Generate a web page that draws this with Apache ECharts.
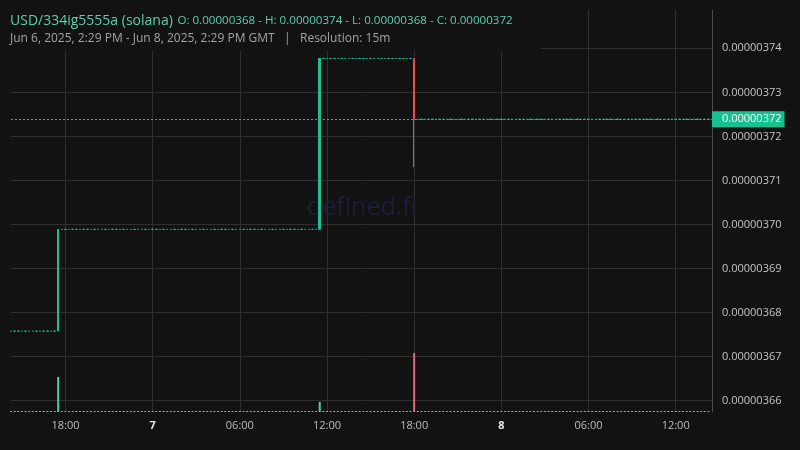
<!DOCTYPE html>
<html><head><meta charset="utf-8">
<script src="https://cdn.jsdelivr.net/npm/echarts@6/dist/echarts.min.js"></script>
<style>html,body{margin:0;padding:0;background:#121212;}#c{width:800px;height:450px;}</style>
</head><body><div id="c"></div>
<script>
// 15-minute slots from Jun 6 2025 14:15 GMT to Jun 8 2025 14:30 GMT
const startUTC = Date.UTC(2025, 5, 6, 14, 15);
const slotCount = 194;
const categories = [];
for (let i = 0; i < slotCount; i++) {
  const d = new Date(startUTC + i * 15 * 60000);
  const p = n => String(n).padStart(2, '0');
  categories.push(d.getUTCFullYear() + '-' + p(d.getUTCMonth() + 1) + '-' + p(d.getUTCDate()) + ' ' + p(d.getUTCHours()) + ':' + p(d.getUTCMinutes()));
}

// close price of each 15m candle
const closes = [
  3.6758e-6,3.6758e-6,3.6758e-6,3.6758e-6,3.6758e-6,3.6758e-6,3.6758e-6,3.6758e-6,3.6758e-6,3.6758e-6,3.6758e-6,3.6758e-6,
  3.6758e-6,3.6989e-6,3.6989e-6,3.6989e-6,3.6989e-6,3.6989e-6,3.6989e-6,3.6989e-6,3.6989e-6,3.6989e-6,3.6989e-6,3.6989e-6,
  3.6989e-6,3.6989e-6,3.6989e-6,3.6989e-6,3.6989e-6,3.6989e-6,3.6989e-6,3.6989e-6,3.6989e-6,3.6989e-6,3.6989e-6,3.6989e-6,
  3.6989e-6,3.6989e-6,3.6989e-6,3.6989e-6,3.6989e-6,3.6989e-6,3.6989e-6,3.6989e-6,3.6989e-6,3.6989e-6,3.6989e-6,3.6989e-6,
  3.6989e-6,3.6989e-6,3.6989e-6,3.6989e-6,3.6989e-6,3.6989e-6,3.6989e-6,3.6989e-6,3.6989e-6,3.6989e-6,3.6989e-6,3.6989e-6,
  3.6989e-6,3.6989e-6,3.6989e-6,3.6989e-6,3.6989e-6,3.6989e-6,3.6989e-6,3.6989e-6,3.6989e-6,3.6989e-6,3.6989e-6,3.6989e-6,
  3.6989e-6,3.6989e-6,3.6989e-6,3.6989e-6,3.6989e-6,3.6989e-6,3.6989e-6,3.6989e-6,3.6989e-6,3.6989e-6,3.6989e-6,3.6989e-6,
  3.6989e-6,3.7377e-6,3.7377e-6,3.7377e-6,3.7377e-6,3.7377e-6,3.7377e-6,3.7377e-6,3.7377e-6,3.7377e-6,3.7377e-6,3.7377e-6,
  3.7377e-6,3.7377e-6,3.7377e-6,3.7377e-6,3.7377e-6,3.7377e-6,3.7377e-6,3.7377e-6,3.7377e-6,3.7377e-6,3.7377e-6,3.7377e-6,
  3.7377e-6,3.7377e-6,3.7377e-6,3.7239e-6,3.7239e-6,3.7239e-6,3.7239e-6,3.7239e-6,3.7239e-6,3.7239e-6,3.7239e-6,3.7239e-6,
  3.7239e-6,3.7239e-6,3.7239e-6,3.7239e-6,3.7239e-6,3.7239e-6,3.7239e-6,3.7239e-6,3.7239e-6,3.7239e-6,3.7239e-6,3.7239e-6,
  3.7239e-6,3.7239e-6,3.7239e-6,3.7239e-6,3.7239e-6,3.7239e-6,3.7239e-6,3.7239e-6,3.7239e-6,3.7239e-6,3.7239e-6,3.7239e-6,
  3.7239e-6,3.7239e-6,3.7239e-6,3.7239e-6,3.7239e-6,3.7239e-6,3.7239e-6,3.7239e-6,3.7239e-6,3.7239e-6,3.7239e-6,3.7239e-6,
  3.7239e-6,3.7239e-6,3.7239e-6,3.7239e-6,3.7239e-6,3.7239e-6,3.7239e-6,3.7239e-6,3.7239e-6,3.7239e-6,3.7239e-6,3.7239e-6,
  3.7239e-6,3.7239e-6,3.7239e-6,3.7239e-6,3.7239e-6,3.7239e-6,3.7239e-6,3.7239e-6,3.7239e-6,3.7239e-6,3.7239e-6,3.7239e-6,
  3.7239e-6,3.7239e-6,3.7239e-6,3.7239e-6,3.7239e-6,3.7239e-6,3.7239e-6,3.7239e-6,3.7239e-6,3.7239e-6,3.7239e-6,3.7239e-6,
  3.7239e-6
];
const firstOpen = 3.6758e-6;
// candles whose wick goes beyond open/close: [slot index, low]
const lowOverrides = [[111, 3.7130e-6]];

// volume per candle (relative units)
const volumes = [
  0,0,0,0,0,0,0,0,0,0,0,0,0,87,0,0,0,0,0,0,0,0,0,0,
  0,0,0,0,0,0,0,0,0,0,0,0,0,0,0,0,0,0,0,0,0,0,0,0,
  0,0,0,0,0,0,0,0,0,0,0,0,0,0,0,0,0,0,0,0,0,0,0,0,
  0,0,0,0,0,0,0,0,0,0,0,0,0,25,0,0,0,0,0,0,0,0,0,0,
  0,0,0,0,0,0,0,0,0,0,0,0,0,0,0,147,0,0,0,0,0,0,0,0,
  0,0,0,0,0,0,0,0,0,0,0,0,0,0,0,0,0,0,0,0,0,0,0,0,
  0,0,0,0,0,0,0,0,0,0,0,0,0,0,0,0,0,0,0,0,0,0,0,0,
  0,0,0,0,0,0,0,0,0,0,0,0,0,0,0,0,0,0,0,0,0,0,0,0,
  0
];
const volumeMax = 1000;

const yMin = 3.65744e-6, yMax = 3.7487e-6;
const titleMain = 'USD/334ig5555a (solana)';
const titleOHLC = 'O: 0.00000368 - H: 0.00000374 - L: 0.00000368 - C: 0.00000372';
const titleSub = 'Jun 6, 2025, 2:29 PM - Jun 8, 2025, 2:29 PM GMT   |   Resolution: 15m';
const watermark = 'defined.fi';

const UP = '#19bf95', DOWN = '#f0474b', VUP = '#4fd0aa', VDOWN = '#e8647a';
const FONT = 'Open Sans';

const candleData = [];
const volData = [];
for (let i = 0; i < closes.length; i++) {
  const o = i === 0 ? firstOpen : closes[i - 1];
  const c = closes[i];
  let lo = Math.min(o, c), hi = Math.max(o, c);
  lowOverrides.forEach(([k, v]) => { if (k === i) lo = v; });
  candleData.push([o, c, lo, hi]);
  volData.push({ value: volumes[i], itemStyle: { color: c < o ? VDOWN : VUP } });
}
const lastClose = closes[closes.length - 1];

function isMajor(idx) {
  const t = categories[idx];
  const hh = +t.slice(11, 13), mm = t.slice(14, 16);
  return mm === '00' && hh % 6 === 0;
}

const chart = echarts.init(document.getElementById('c'), null, { renderer: 'canvas' });
chart.setOption({
  animation: false,
  backgroundColor: '#121212',
  textStyle: { fontFamily: FONT },
  title: {
    z: 100,
    left: 10, top: 11, padding: 0, itemGap: 2,
    text: '{a|' + titleMain + '} {b|' + titleOHLC + '}',
    textStyle: {
      fontWeight: 'normal',
      rich: {
        a: { fontSize: 14, color: '#5ccfae', fontFamily: FONT, fontWeight: 'normal', lineHeight: 20 },
        b: { fontSize: 11.6, color: '#5ccfae', fontFamily: FONT, fontWeight: 'normal', lineHeight: 20 }
      }
    },
    subtext: titleSub,
    subtextStyle: { fontSize: 12, color: '#a3a3a3', fontFamily: FONT, fontWeight: 'normal', lineHeight: 16 }
  },
  graphic: [
    { type: 'rect', z: 50, shape: { x: 0, y: 0, width: 541, height: 51 }, style: { fill: '#121212' } },
    { type: 'text', z: 1, x: 362, y: 208, style: { text: watermark, fontSize: 25, fontFamily: FONT, fill: '#1d1d38', align: 'center', verticalAlign: 'middle' } }
  ],
  grid: { left: 11, right: 88, top: 10, bottom: 38 },
  xAxis: {
    type: 'category',
    data: categories,
    boundaryGap: false,
    axisLine: { show: false },
    axisTick: { show: false },
    axisLabel: {
      interval: (idx) => isMajor(idx),
      margin: 8,
      fontSize: 11,
      color: '#bdbdbd',
      fontFamily: FONT,
      formatter: (v) => {
        const hh = v.slice(11, 13);
        if (hh === '00') return '{d|' + (+v.slice(8, 10)) + '}';
        return v.slice(11, 16);
      },
      rich: { d: { fontWeight: 'bold', fontSize: 11, color: '#e6e6e6', fontFamily: FONT } }
    },
    splitLine: { show: true, interval: (idx) => isMajor(idx), lineStyle: { color: '#2f2f2f', width: 1 } }
  },
  yAxis: [{
    type: 'value',
    position: 'right',
    min: yMin, max: yMax,
    splitNumber: 8,
    minInterval: 1e-8, maxInterval: 1e-8,
    axisLine: { show: true, lineStyle: { color: '#4a4a4a' } },
    axisTick: { show: false },
    axisLabel: {
      margin: 10, fontSize: 11, color: '#c4c4c4', fontFamily: FONT,
      showMinLabel: false, showMaxLabel: false,
      formatter: (v) => v.toFixed(8)
    },
    splitLine: { show: true, showMinLine: false, showMaxLine: false, lineStyle: { color: '#2f2f2f', width: 1 } }
  }, {
    type: 'value', show: false, min: 0, max: volumeMax,
    splitLine: { show: false }
  }],
  series: [{
    type: 'bar',
    name: 'Volume',
    xAxisIndex: 0, yAxisIndex: 1,
    data: volData,
    barWidth: 2,
    barMinHeight: 1,
    z: 2
  }, {
    type: 'candlestick',
    name: 'Price',
    xAxisIndex: 0, yAxisIndex: 0,
    data: candleData,
    barWidth: 2,
    large: false,
    z: 3,
    itemStyle: { color: UP, color0: DOWN, borderColor: UP, borderColor0: DOWN, borderWidth: 1 },
    markLine: {
      silent: true,
      animation: false,
      symbol: ['none', 'none'],
      data: [[
        { coord: [categories[0], lastClose] },
        { coord: [categories[categories.length - 1], lastClose] }
      ]],
      lineStyle: { color: UP, type: [2, 2], width: 1, opacity: 1 },
      label: {
        show: true, position: 'end', distance: 0,
        formatter: () => lastClose.toFixed(8),
        backgroundColor: '#16c190', color: '#ffffff', fontSize: 11, fontFamily: FONT,
        lineHeight: 12, padding: [2, 3, 2, 10]
      },
      emphasis: { disabled: true }
    }
  }]
});
</script>
</body></html>
